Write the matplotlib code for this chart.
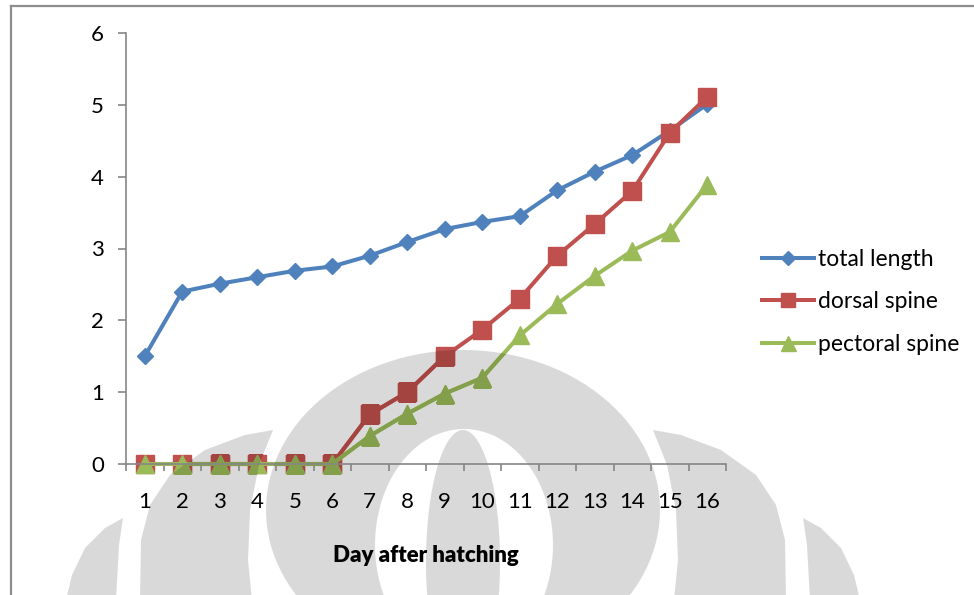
import numpy as np
import matplotlib
matplotlib.use('Agg')
import matplotlib.pyplot as plt
from matplotlib.path import Path
from matplotlib.patches import PathPatch, Polygon
from matplotlib.lines import Line2D
from matplotlib.colors import to_rgb

plt.rcParams['font.family'] = ['Lato', 'DejaVu Sans']

days = list(range(1, 17))
total_length = [1.50, 2.40, 2.51, 2.60, 2.69, 2.75, 2.90, 3.09, 3.27, 3.37, 3.45, 3.81, 4.07, 4.30, 4.64, 5.01]
dorsal_spine = [0, 0, 0, 0, 0, 0, 0.69, 1.00, 1.50, 1.87, 2.30, 2.90, 3.34, 3.80, 4.61, 5.11]
pectoral_spine = [0, 0, 0, 0, 0, 0, 0.39, 0.70, 0.98, 1.20, 1.79, 2.23, 2.62, 2.97, 3.23, 3.89]

W, H = 974, 595
fig = plt.figure(figsize=(W / 100, H / 100), dpi=100)

# background layer in pixel units (y grows downward)
bg = fig.add_axes([0, 0, 1, 1], zorder=0)
bg.set_xlim(0, W)
bg.set_ylim(H, 0)
bg.axis('off')

wm_color = '#d9d9d9'


def ellipse_xy(cx, cy, w, h, reverse=False):
    t = np.linspace(0, 2 * np.pi, 120)
    if reverse:
        t = -t
    return np.column_stack([cx + w / 2 * np.cos(t), cy + h / 2 * np.sin(t)])


def mirror(pts, cx=463):
    return [(2 * cx - x, y) for x, y in pts]


# central emblem: outer dome, white ring, inner oval
outer = ellipse_xy(463, 510, 394, 320)
ring = ellipse_xy(464, 545, 178, 232, reverse=True)
inner = ellipse_xy(463, 562, 74, 264)
paths = [Path(p, closed=True) for p in (outer, ring, inner)]
emblem = PathPatch(Path.make_compound_path(*paths), facecolor=wm_color,
                   edgecolor='none', transform=bg.transData)
bg.add_patch(emblem)

flame = [(273, 430), (259, 465), (250, 510), (248, 560), (252, 600), (140, 600),
         (141, 540), (150, 505), (170, 475), (205, 450), (245, 435)]
small_flame = [(123, 518), (119, 545), (116, 600), (66, 600), (72, 575), (85, 548), (105, 528)]
wm_patches = [emblem]
for pts in (flame, mirror(flame), small_flame, mirror(small_flame)):
    p = Polygon(pts, closed=True, facecolor=wm_color, edgecolor='none', transform=bg.transData)
    bg.add_patch(p)
    wm_patches.append(p)

# chart frame (top and left edges)
fig.add_artist(Line2D([10.5 / W, 10.5 / W], [0, 1 - 5.5 / H], color='#8e8e8e', lw=1.6))
fig.add_artist(Line2D([10.5 / W, 1], [1 - 5.5 / H, 1 - 5.5 / H], color='#8e8e8e', lw=1.6))

ax = fig.add_axes([126 / W, 1 - 464 / H, 600 / W, 431 / H], zorder=1)
ax.set_facecolor('none')

series = [
    (total_length, 'total length', '#4F81BD', 'D', 8.5),
    (dorsal_spine, 'dorsal spine', '#C0504D', 's', 12.5),
    (pectoral_spine, 'pectoral spine', '#9BBB59', '^', 13.5),
]
handles = []
for vals, name, color, marker, ms in series:
    ax.plot(days, vals, color=color, lw=2.9, marker=marker, ms=ms,
            clip_on=False, solid_joinstyle='round')
    handles.append(Line2D([], [], color=color, lw=2.9, marker=marker, ms=ms * 0.8, label=name))
    # tinted copy where the emblem lies beneath
    dark = tuple(c * 0.85 for c in to_rgb(color))
    for p in wm_patches:
        ln, = ax.plot(days, vals, color=dark, lw=2.9, marker=marker, ms=ms,
                      solid_joinstyle='round')
        ln.set_clip_box(None)
        ln.set_clip_path(p)

ax.set_xlim(0.5, 16.5)
ax.set_ylim(0, 6)
ax.set_yticks(range(0, 7))
ax.set_xticks(days)
ax.set_xticks(np.arange(0.5, 17, 1), minor=True)

for s in ('top', 'right'):
    ax.spines[s].set_visible(False)
for s in ('left', 'bottom'):
    ax.spines[s].set_color('#868686')
    ax.spines[s].set_linewidth(1.2)

ax.tick_params(axis='y', length=5.8, width=1.2, color='#868686', pad=10,
               labelsize=16, labelcolor='black')
ax.tick_params(axis='x', which='major', length=0, pad=20, labelsize=16, labelcolor='black')
ax.tick_params(axis='x', which='minor', length=5, width=1.2, color='#868686')

ax.set_xlabel('Day after hatching', fontsize=16, fontweight='heavy', labelpad=24)

fig.legend(handles=handles, loc='center left', bbox_to_anchor=(762 / W, 1 - 302 / H),
           frameon=False, fontsize=16.5, handlelength=2.25, handletextpad=0.2,
           labelspacing=0.95, borderpad=0, borderaxespad=0)

fig.savefig('out.png', dpi=100)
